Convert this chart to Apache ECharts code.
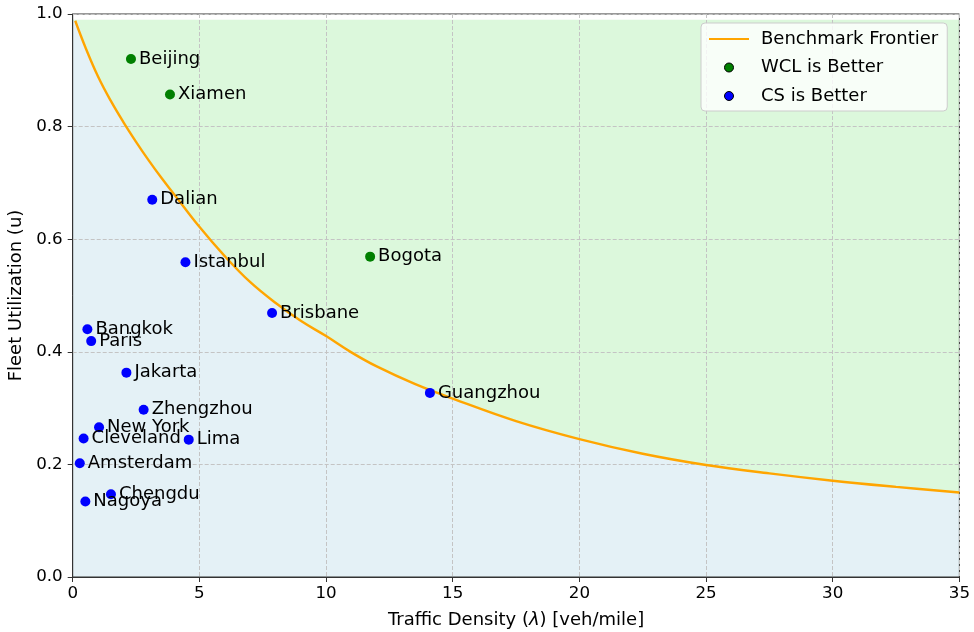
<!DOCTYPE html>
<html>
<head>
<meta charset="utf-8">
<script src="https://cdn.jsdelivr.net/npm/echarts@6/dist/echarts.min.js"></script>
<style>
  html, body { margin: 0; padding: 0; background: #ffffff; }
  #chart { width: 974px; height: 632px; }
</style>
</head>
<body>
<div id="chart"></div>
<script>
// Benchmark frontier (traffic density λ, fleet utilization u)
const frontierLambda = [0.1, 0.5, 1.0, 1.5, 2.0, 2.5, 3.0, 3.5, 4.0, 5.0, 6.0, 7.0, 8.0, 9.0, 10.0, 11.0, 12.0, 13.5, 15.0, 17.5, 20.0, 22.5, 25.0, 27.5, 30.0, 32.5, 35.0];
const frontierU      = [0.988, 0.941, 0.889, 0.846, 0.808, 0.773, 0.740, 0.709, 0.680, 0.622, 0.570, 0.524, 0.487, 0.455, 0.428, 0.399, 0.374, 0.343, 0.317, 0.277, 0.245, 0.219, 0.199, 0.184, 0.171, 0.160, 0.150];

// Cities where WCL performs better
const wclCities = ['Beijing', 'Xiamen', 'Bogota'];
const wclLambda = [2.30, 3.84, 11.74];
const wclUtil   = [0.920, 0.857, 0.569];

// Cities where CS performs better
const csCities = ['Dalian', 'Istanbul', 'Brisbane', 'Guangzhou', 'Bangkok', 'Paris', 'Jakarta', 'Zhengzhou', 'New York', 'Cleveland', 'Lima', 'Amsterdam', 'Chengdu', 'Nagoya'];
const csLambda = [3.14, 4.45, 7.87, 14.10, 0.58, 0.73, 2.12, 2.80, 1.04, 0.43, 4.58, 0.28, 1.51, 0.50];
const csUtil   = [0.670, 0.559, 0.469, 0.327, 0.440, 0.419, 0.363, 0.297, 0.266, 0.246, 0.244, 0.202, 0.147, 0.134];

// Axis ticks
const xTicks = { min: 0, max: 35, interval: 5 };
const yTicks = { min: 0, max: 1.0, interval: 0.2 };
const fillTop = 0.99;

const FONT = "'DejaVu Sans', 'Liberation Sans', sans-serif";

const frontier = frontierLambda.map((x, i) => [x, frontierU[i]]);
const blueRegion = [[0, frontierU[0]]].concat(frontier);
const greenRegion = [[xTicks.min, fillTop], [xTicks.max, fillTop]];
const pts = (names, xs, ys) => names.map((n, i) => ({ name: n, value: [xs[i], ys[i]] }));

const pointLabel = {
  show: true,
  position: 'right',
  distance: 3,
  formatter: p => p.name,
  color: '#000',
  opacity: 1,
  fontFamily: FONT,
  fontSize: 18
};

const chart = echarts.init(document.getElementById('chart'), null, { renderer: 'canvas' });
chart.setOption({
  animation: false,
  backgroundColor: '#ffffff',
  grid: {
    left: 72.7, right: 14.6, top: 14, bottom: 55,
    outerBoundsMode: 'none', containLabel: false,
    show: true, borderColor: '#333333', borderWidth: 1, backgroundColor: 'transparent'
  },
  xAxis: {
    type: 'value', min: xTicks.min, max: xTicks.max, interval: xTicks.interval,
    name: 'Traffic Density ({i|λ}) [veh/mile]',
    nameLocation: 'middle', nameGap: 34,
    nameTextStyle: {
      color: '#000', fontFamily: FONT, fontSize: 18,
      rich: { i: { fontStyle: 'italic', fontFamily: FONT, fontSize: 18, color: '#000' } }
    },
    axisLine: { show: true, onZero: false, lineStyle: { color: '#333333', width: 1 } },
    axisTick: { show: true, length: 5, lineStyle: { color: '#333333' } },
    axisLabel: { color: '#000', fontFamily: FONT, fontSize: 16.7, margin: 8 },
    splitLine: { show: true, lineStyle: { color: '#c4c4c4', type: [4, 2], width: 1 } }
  },
  yAxis: {
    type: 'value', min: yTicks.min, max: yTicks.max, interval: yTicks.interval,
    name: 'Fleet Utilization (u)',
    nameLocation: 'middle', nameGap: 41,
    nameTextStyle: { color: '#000', fontFamily: FONT, fontSize: 18 },
    axisLine: { show: true, onZero: false, lineStyle: { color: '#333333', width: 1 } },
    axisTick: { show: true, length: 5, lineStyle: { color: '#333333' } },
    axisLabel: { color: '#000', fontFamily: FONT, fontSize: 16.7, margin: 10, formatter: v => v.toFixed(1) },
    splitLine: { show: true, lineStyle: { color: '#c4c4c4', type: [4, 2], width: 1 } }
  },
  legend: {
    left: 701, top: 23,
    orient: 'vertical',
    padding: [6, 9, 5, 7],
    itemWidth: 40, itemHeight: 9, itemGap: 8.5,
    backgroundColor: 'rgba(255,255,255,0.8)',
    borderColor: '#cccccc', borderWidth: 1, borderRadius: 4,
    textStyle: { color: '#000', fontFamily: FONT, fontSize: 18, lineHeight: 20, padding: [0, 0, 0, 7] },
    data: [
      { name: 'Benchmark Frontier', itemStyle: { opacity: 0 } },
      { name: 'WCL is Better', icon: 'circle', itemStyle: { color: '#008000', borderColor: '#000', borderWidth: 1, opacity: 1 } },
      { name: 'CS is Better', icon: 'circle', itemStyle: { color: '#0000ff', borderColor: '#000', borderWidth: 1, opacity: 1 } }
    ]
  },
  series: [
    {
      name: 'region-wcl', type: 'line', data: greenRegion, z: -2, silent: true,
      symbol: 'none', lineStyle: { width: 0 },
      areaStyle: { color: '#dcf8dc', opacity: 1 }
    },
    {
      name: 'region-cs', type: 'line', data: blueRegion, z: -1, silent: true,
      smooth: 0.4,
      symbol: 'none', lineStyle: { width: 0 },
      areaStyle: { color: '#e4f1f6', opacity: 1 }
    },
    {
      name: 'Benchmark Frontier', type: 'line', data: frontier, z: 3,
      smooth: 0.4,
      symbol: 'none', color: '#ffa500',
      lineStyle: { color: '#ffa500', width: 2.4 }
    },
    {
      name: 'WCL is Better', type: 'scatter', z: 4,
      data: pts(wclCities, wclLambda, wclUtil),
      symbol: 'circle', symbolSize: 10,
      itemStyle: { color: '#008000', opacity: 1 },
      label: pointLabel
    },
    {
      name: 'CS is Better', type: 'scatter', z: 4,
      data: pts(csCities, csLambda, csUtil),
      symbol: 'circle', symbolSize: 10,
      itemStyle: { color: '#0000ff', opacity: 1 },
      label: pointLabel
    }
  ]
});
</script>
</body>
</html>
